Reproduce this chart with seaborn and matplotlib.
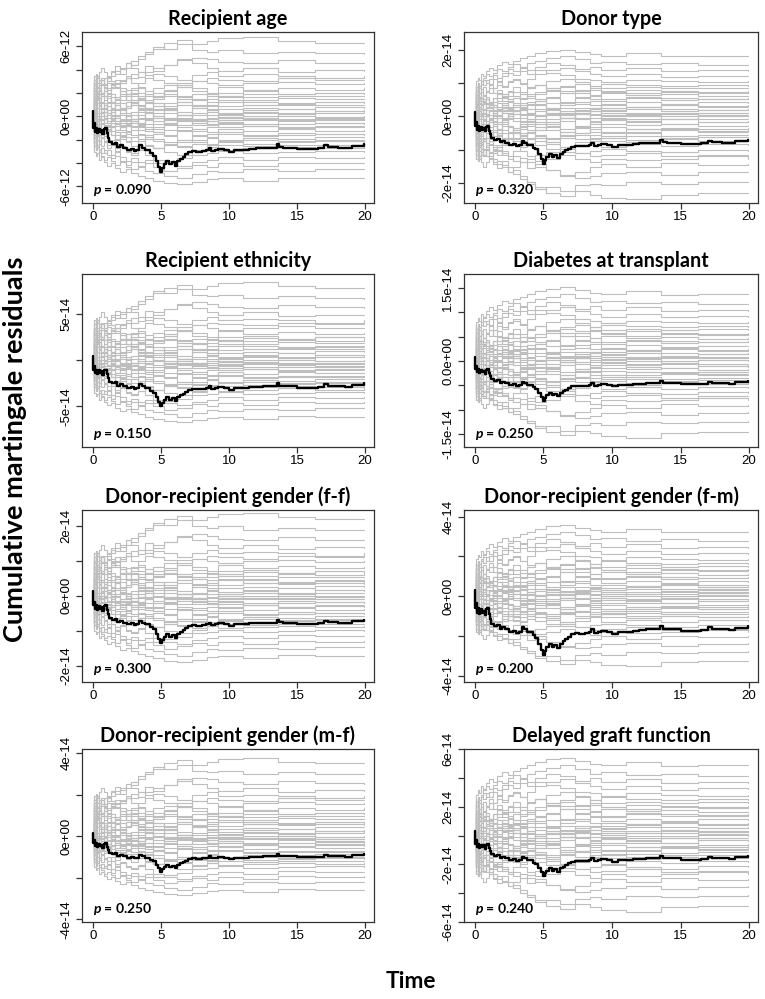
import numpy as np
import pandas as pd
import matplotlib
matplotlib.use("Agg")
import matplotlib.pyplot as plt
import seaborn as sns
from matplotlib.transforms import blended_transform_factory

sns.set_theme(style="ticks")
plt.rcParams["font.family"] = ["Liberation Sans", "DejaVu Sans"]
plt.rcParams["mathtext.fontset"] = "custom"
plt.rcParams["mathtext.it"] = "Lato:style=italic:weight=bold"
plt.rcParams["mathtext.rm"] = "Lato:weight=bold"
for key in ["text.color", "axes.labelcolor", "xtick.color", "ytick.color"]:
    plt.rcParams[key] = "black"

# ---------------- data ----------------
TITLES = ["Recipient age", "Donor type", "Recipient ethnicity", "Diabetes at transplant",
          "Donor-recipient gender (f-f)", "Donor-recipient gender (f-m)",
          "Donor-recipient gender (m-f)", "Delayed graft function"]
P_VALUES = ["0.090", "0.320", "0.150", "0.250", "0.300", "0.200", "0.250", "0.240"]

# observed process (black), shape in units of the dip depth at t=5
BLACK_TIMES = [0, 0.03, 0.08, 0.12, 0.2, 0.3, 0.4, 0.5, 0.6, 0.7, 0.8, 0.9, 1.0, 1.1, 1.2,
               1.4, 1.6, 1.8, 2.0, 2.2, 2.5, 2.8, 3.0, 3.2, 3.4, 3.6, 3.8, 4.0, 4.2, 4.4,
               4.6, 4.8, 4.95, 5.1, 5.2, 5.4, 5.6, 5.8, 6.0, 6.2, 6.4, 6.6, 6.8, 7.0, 7.3,
               7.6, 8.0, 8.3, 8.5, 8.7, 9.0, 9.2, 9.6, 10.0, 10.4, 11.0, 11.5, 12.0, 12.5,
               13.0, 13.5, 13.7, 14.0, 14.5, 15.0, 16.0, 16.5, 17.0, 17.3, 18.0, 18.5, 19.0,
               19.9]
BLACK_SHAPE = [0.1, -0.2, -0.12, -0.28, -0.2, -0.3, -0.22, -0.28, -0.24, -0.32, -0.22, -0.2,
               -0.3, -0.38, -0.46, -0.5, -0.48, -0.55, -0.52, -0.56, -0.6, -0.58, -0.62, -0.6,
               -0.52, -0.56, -0.6, -0.6, -0.66, -0.7, -0.8, -0.9, -1.0, -0.92, -0.86, -0.8,
               -0.86, -0.82, -0.88, -0.8, -0.76, -0.72, -0.68, -0.64, -0.62, -0.63, -0.62,
               -0.6, -0.56, -0.62, -0.6, -0.58, -0.6, -0.64, -0.6, -0.6, -0.58, -0.57, -0.56,
               -0.56, -0.5, -0.55, -0.56, -0.56, -0.59, -0.59, -0.57, -0.52, -0.55, -0.56,
               -0.57, -0.53, -0.5]
BLACK_DIP = [4.8e-12, 1.42e-14, 5.0e-14, 0.82e-14, 1.36e-14, 2.97e-14, 1.73e-14, 2.85e-14]

# simulated processes (grey), in percent of the extreme end values
GREY_TIMES = [0, 0.05, 0.1, 0.2, 0.3, 0.45, 0.6, 0.8, 1.0, 1.3, 1.6, 2.0, 2.4, 2.8, 3.3,
              3.8, 4.4, 5.2, 6.2, 7.3, 8.4, 9.2, 11.0, 13.6, 16.3, 19.9]
GREY_PATHS = [
    [20, 35, 28, 45, 38, 50, 42, 55, 60, 58, 66, 72, 70, 78, 85, 92, 100, 104, 98, 102, 106, 108, 102, 100, 100],
    [40, 30, 45, 38, 50, 44, 52, 48, 55, 62, 58, 66, 75, 82, 88, 95, 92, 98, 90, 88, 90, 86, 88, 86, 85],
    [-10, 5, 15, 25, 20, 32, 28, 38, 45, 40, 50, 55, 52, 60, 68, 62, 70, 76, 80, 78, 74, 72, 76, 73, 72],
    [35, 45, 30, 22, 30, 18, 28, 20, 30, 24, 35, 30, 38, 45, 52, 58, 55, 50, 56, 60, 55, 57, 55, 52, 55],
    [10, 25, 40, 32, 42, 50, 44, 52, 48, 40, 35, 28, 32, 38, 30, 28, 36, 42, 48, 45, 42, 45, 47, 44, 45],
    [-30, -20, -10, -15, 0, 5, 0, 8, 12, 18, 22, 30, 36, 32, 28, 38, 42, 46, 38, 32, 40, 36, 39, 36, 38],
    [50, 55, 45, 55, 50, 42, 38, 32, 38, 44, 48, 52, 45, 40, 35, 32, 28, 24, 30, 24, 28, 31, 30, 32, 30],
    [5, -5, 10, 0, 15, 20, 10, 5, -5, 0, 5, 12, 18, 25, 22, 18, 14, 20, 15, 20, 26, 22, 25, 24, 24],
    [-45, -35, -25, -30, -20, -28, -22, -15, -8, -12, -5, 0, 6, 12, 8, 14, 10, 16, 22, 14, 20, 16, 18, 19, 18],
    [30, 20, 28, 35, 25, 18, 12, 20, 26, 18, 12, 20, 15, 8, 4, -2, -6, 2, 12, 8, 5, 11, 10, 13, 12],
    [-20, -30, -40, -32, -25, -35, -28, -20, -30, -22, -18, -25, -15, -10, -4, -8, -2, -6, 2, 8, 3, 6, 4, 7, 6],
    [15, 28, 22, 35, 42, 32, 38, 30, 40, 45, 38, 30, 22, 28, 20, 14, 8, 2, -5, 2, -3, 0, 3, -1, 0],
    [-5, 8, -2, -12, -4, 6, -2, -10, -18, -12, -22, -15, -8, -16, -24, -18, -12, -6, -14, -8, -3, -6, -4, -6, -5],
    [25, 15, 5, 12, 20, 10, 18, 8, 2, 10, 4, -4, -10, -2, 6, 0, 8, 2, -6, -13, -9, -12, -8, -10, -10],
    [-35, -25, -15, -22, -30, -20, -14, -22, -16, -26, -34, -28, -22, -30, -36, -28, -22, -18, -24, -18, -13, -16, -19, -15, -16],
    [8, -2, -12, -20, -12, -4, -10, -2, 6, -2, -10, -16, -8, -14, -20, -26, -30, -24, -20, -26, -20, -24, -21, -23, -22],
    [-50, -42, -48, -38, -45, -35, -40, -46, -38, -44, -36, -42, -48, -40, -46, -52, -44, -38, -32, -28, -26, -30, -27, -29, -28],
    [45, 35, 25, 30, 18, 10, 15, 5, -2, -8, -14, -8, -16, -22, -18, -26, -32, -38, -42, -34, -38, -35, -36, -33, -34],
    [-15, -25, -35, -28, -40, -48, -42, -52, -46, -56, -50, -58, -62, -55, -48, -52, -46, -50, -54, -46, -41, -44, -42, -40, -42],
    [20, 10, 0, -8, -2, -12, -20, -14, -24, -30, -26, -34, -40, -36, -46, -52, -58, -62, -56, -50, -54, -52, -50, -52, -50],
    [-40, -48, -55, -50, -58, -52, -60, -54, -62, -58, -66, -72, -68, -74, -70, -76, -72, -68, -62, -60, -56, -60, -58, -56, -58],
    [-25, -15, -22, -32, -40, -34, -42, -38, -46, -52, -48, -56, -60, -54, -62, -70, -76, -80, -74, -70, -66, -70, -65, -67, -66],
    [-55, -48, -40, -50, -58, -64, -70, -66, -72, -78, -74, -82, -86, -80, -76, -82, -88, -84, -78, -82, -76, -80, -75, -76, -75],
    [-30, -42, -52, -46, -54, -60, -55, -62, -68, -64, -72, -78, -74, -82, -88, -92, -96, -100, -94, -88, -90, -86, -88, -85, -85],
    [-50, -58, -64, -60, -70, -66, -74, -80, -76, -84, -90, -86, -92, -96, -100, -104, -108, -110, -106, -102, -100, -104, -99, -100, -100],
    [10, 22, 30, 24, 36, 30, 40, 46, 42, 50, 45, 52, 58, 54, 60, 66, 70, 78, 72, 66, 62, 66, 61, 63, 62],
    [30, 45, 52, 40, 34, 28, 35, 25, 18, 24, 30, 22, 15, 10, 18, 24, 30, 20, 12, 6, 10, 8, 10, 7, 8],
    [-10, 2, 12, 18, 10, 4, -4, 4, -6, 2, -8, -14, -8, -18, -12, -20, -14, -22, -30, -35, -28, -32, -30, -28, -30],
    [-30, -42, -48, -38, -30, -22, -28, -18, -10, -16, -6, 2, -4, 6, 12, 8, 18, 26, 22, 16, 22, 20, 17, 20, 20],
    [50, 42, 35, 28, 36, 30, 22, 28, 20, 26, 18, 12, 20, 14, 6, 0, -6, -14, -8, -12, -10, -15, -12, -11, -12],
    [25, 38, 48, 55, 46, 52, 44, 36, 44, 38, 30, 36, 28, 22, 30, 26, 34, 40, 34, 28, 32, 34, 30, 32, 32],
    [-20, -10, 0, -8, 4, 12, 6, 14, 8, 16, 10, 4, -4, 2, -6, -2, -10, -4, -10, -4, -1, -3, 0, -2, -2],
    [40, 28, 18, 26, 14, 6, 12, 2, 10, 16, 8, 14, 22, 16, 10, 18, 12, 6, 14, 10, 14, 16, 15, 16, 15],
    [-40, -30, -36, -26, -18, -26, -32, -24, -30, -38, -32, -40, -34, -28, -34, -40, -46, -42, -38, -44, -40, -38, -40, -39, -40],
    [5, 18, 8, -4, -12, -6, -16, -24, -18, -10, -18, -12, -4, -10, -2, 4, -2, -8, -4, -14, -18, -16, -18, -17, -18],
    [-5, -18, -28, -20, -30, -24, -14, -22, -30, -36, -30, -24, -30, -36, -30, -36, -42, -48, -44, -50, -46, -48, -46, -47, -46],
    [55, 50, 58, 52, 60, 66, 60, 54, 62, 68, 64, 72, 66, 60, 56, 50, 46, 40, 48, 52, 50, 48, 52, 50, 50],
    [-15, 0, 10, 4, -6, 0, 10, 18, 12, 22, 28, 22, 30, 24, 20, 26, 34, 28, 24, 30, 28, 26, 28, 27, 28],
    [12, -4, -16, -8, -18, -12, -4, -10, -2, -8, -16, -10, -18, -12, -6, -12, -4, 2, -4, -8, -6, -4, -6, -5, -6],
    [-25, -35, -22, -12, -20, -10, -2, -8, 0, 8, 2, -6, 2, -4, 4, 10, 4, -2, 4, -2, 2, 4, 3, 4, 4],
]
GREY_TOP = [6.3e-12, 1.82e-14, 7.9e-14, 1.38e-14, 2.2e-14, 3.25e-14, 3.5e-14, 4.9e-14]
GREY_BOTTOM = [-5.3e-12, -2.3e-14, -6.1e-14, -1.46e-14, -1.72e-14, -3.25e-14, -2.58e-14, -4.9e-14]
GREY_FLIP = [1, -1, 1, -1, 1, -1, 1, -1]

Y_LIMS = [(-7.43e-12, 7.23e-12), (-2.6e-14, 2.53e-14), (-9.41e-14, 9.38e-14),
          (-1.77e-14, 1.79e-14), (-2.46e-14, 2.45e-14), (-4.3e-14, 4.33e-14),
          (-4.13e-14, 4.19e-14), (-6.02e-14, 6.02e-14)]
Y_TICKS = [
    [-6e-12, -4e-12, -2e-12, 0, 2e-12, 4e-12, 6e-12],
    [-2e-14, -1e-14, 0, 1e-14, 2e-14],
    [-5e-14, 0, 5e-14],
    [-1.5e-14, -1e-14, -0.5e-14, 0, 0.5e-14, 1e-14, 1.5e-14],
    [-2e-14, -1e-14, 0, 1e-14, 2e-14],
    [-4e-14, -2e-14, 0, 2e-14, 4e-14],
    [-4e-14, -2e-14, 0, 2e-14, 4e-14],
    [-6e-14, -4e-14, -2e-14, 0, 2e-14, 4e-14, 6e-14],
]
Y_TICKLABELS = [
    ["-6e-12", "", "", "0e+00", "", "", "6e-12"],
    ["-2e-14", "", "0e+00", "", "2e-14"],
    ["-5e-14", "", "5e-14"],
    ["-1.5e-14", "", "", "0.0e+00", "", "", "1.5e-14"],
    ["-2e-14", "", "0e+00", "", "2e-14"],
    ["-4e-14", "", "0e+00", "", "4e-14"],
    ["-4e-14", "", "0e+00", "", "4e-14"],
    ["-6e-14", "", "-2e-14", "", "2e-14", "", "6e-14"],
]
X_TICKS = [0, 5, 10, 15, 20]

# ---------------- figure ----------------
W, H = 765, 999
fig = plt.figure(figsize=(W / 100, H / 100), dpi=100)
cols = [(82, 374), (464, 758)]
rows = [(32, 203), (274, 447), (510, 682), (749, 922)]

for i in range(8):
    r, c = divmod(i, 2)
    l, rr = cols[c]
    t, b = rows[r]
    ax = fig.add_axes([l / W, 1 - b / H, (rr - l) / W, (b - t) / H])

    arr = np.array(GREY_PATHS, dtype=float) / 100.0 * GREY_FLIP[i]
    vals = np.where(arr >= 0, arr * GREY_TOP[i], arr * (-GREY_BOTTOM[i]))
    recs = []
    for k, row in enumerate(vals):
        ys = [0.0] + list(row)
        for tt, yy in zip(GREY_TIMES, ys):
            recs.append((k, tt, yy))
    gdf = pd.DataFrame(recs, columns=["path", "t", "v"])
    sns.lineplot(data=gdf, x="t", y="v", units="path", estimator=None, color="#bebebe",
                 linewidth=0.8, drawstyle="steps-post", ax=ax, legend=False)

    bdf = pd.DataFrame({"t": BLACK_TIMES, "v": np.array(BLACK_SHAPE) * BLACK_DIP[i]})
    sns.lineplot(data=bdf, x="t", y="v", color="black", linewidth=1.7,
                 drawstyle="steps-post", ax=ax, legend=False, estimator=None)

    ax.set_xlim(-0.8, 20.65)
    ax.set_ylim(*Y_LIMS[i])
    ax.set_xticks(X_TICKS)
    ax.set_xticklabels([str(x) for x in X_TICKS])
    ax.set_yticks(Y_TICKS[i])
    ax.set_yticklabels(Y_TICKLABELS[i])
    ax.set_xlabel("")
    ax.set_ylabel("")
    ax.tick_params(axis="both", direction="out", length=4, width=0.9, color="#333333",
                   labelsize=9.5, labelcolor="black", pad=2)
    ax.tick_params(axis="y", labelrotation=90, pad=3)
    for lab in ax.get_yticklabels():
        lab.set_va("center")
    for sp in ax.spines.values():
        sp.set_visible(True)
        sp.set_linewidth(0.9)
        sp.set_color("#333333")
    ax.set_title(TITLES[i], fontfamily="Lato", fontweight="bold", fontsize=14.2, pad=5,
                 color="black")
    trans = blended_transform_factory(ax.transData, ax.transAxes)
    ax.text(0, 0.075, f"$p$ = {P_VALUES[i]}", transform=trans, ha="left", va="center",
            fontfamily="Lato", fontweight="bold", fontsize=10, color="black")

fig.text(15 / W, 1 - 449 / H, "Cumulative martingale residuals", rotation=90,
         ha="center", va="center", fontfamily="Lato", fontweight="bold", fontsize=19.5,
         color="black")
fig.text(411 / W, 1 - 981 / H, "Time", ha="center", va="center",
         fontfamily="Lato", fontweight="bold", fontsize=16.3, color="black")

fig.savefig("out.png", dpi=100, facecolor="white")
